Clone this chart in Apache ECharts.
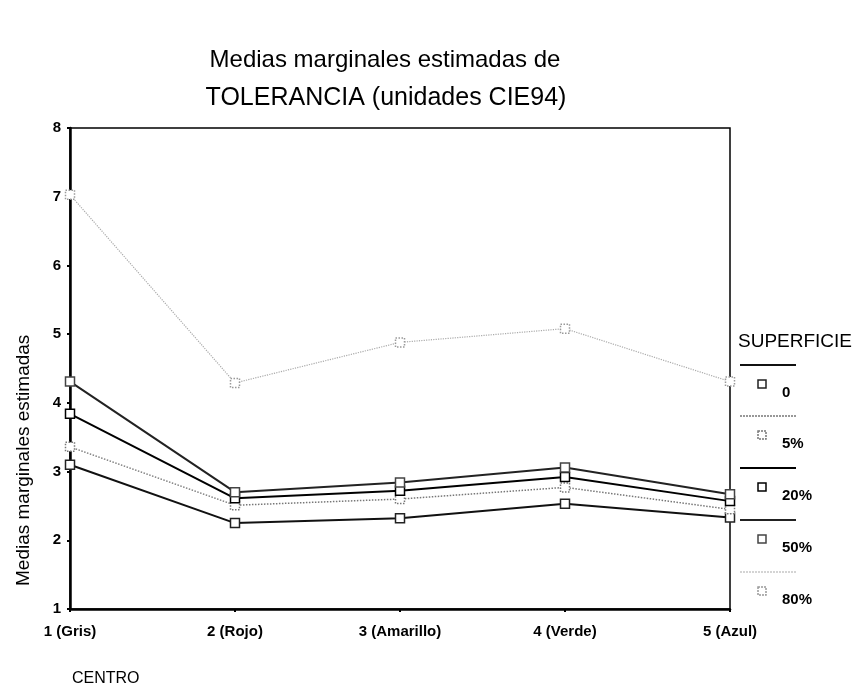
<!DOCTYPE html>
<html><head><meta charset="utf-8">
<script src="https://cdn.jsdelivr.net/npm/echarts@6/dist/echarts.min.js"></script>
<style>html,body{margin:0;padding:0;background:#fff}#c{width:866px;height:693px}</style>
</head><body><div id="c"></div>
<script>
const categories = ['1 (Gris)', '2 (Rojo)', '3 (Amarillo)', '4 (Verde)', '5 (Azul)'];
const seriesNames = ['0', '5%', '20%', '50%', '80%'];
const s0   = [3.10, 2.25, 2.32, 2.53, 2.33];
const s5   = [3.36, 2.51, 2.60, 2.77, 2.45];
const s20  = [3.84, 2.61, 2.72, 2.92, 2.57];
const s50  = [4.31, 2.70, 2.84, 3.06, 2.67];
const s80  = [7.03, 4.29, 4.88, 5.08, 4.31];
const yTicks = [1, 2, 3, 4, 5, 6, 7, 8];
const titleLines = ['Medias marginales estimadas de', 'TOLERANCIA (unidades CIE94)'];
const yName = 'Medias marginales estimadas';
const xName = 'CENTRO';
const legendTitle = 'SUPERFICIE';

const values = [s0, s5, s20, s50, s80];
const styles = [
  {color:'#111', width:2, type:'solid', mk:'#222'},
  {color:'#777', width:1.5, type:'dotted', mk:'#777'},
  {color:'#000', width:2, type:'solid', mk:'#000'},
  {color:'#222', width:2, type:'solid', mk:'#444'},
  {color:'#aaa', width:1.2, type:'dotted', mk:'#999'}
];
const font = 'Liberation Sans, Arial, sans-serif';
const chart = echarts.init(document.getElementById('c'));

const graphic = [
  {type:'text', x:385, y:60, style:{text:titleLines[0], font:'24px '+font, fill:'#000', textAlign:'center', textVerticalAlign:'middle'}},
  {type:'text', x:386, y:98, style:{text:titleLines[1], font:'25px '+font, fill:'#000', textAlign:'center', textVerticalAlign:'middle'}},
  {type:'text', x:14, y:586, rotation:Math.PI/2, style:{text:yName, font:'19px '+font, fill:'#000', textAlign:'left', textVerticalAlign:'top'}},
  {type:'text', x:72, y:679, style:{text:xName, font:'16px '+font, fill:'#000', textVerticalAlign:'middle'}},
  {type:'text', x:738, y:342, style:{text:legendTitle, font:'19px '+font, fill:'#000', textVerticalAlign:'middle'}}
];
const legY = [365, 416, 468, 520, 572];
seriesNames.forEach((n, i) => {
  const st = styles[i];
  graphic.push({type:'line', shape:{x1:740, y1:legY[i], x2:796, y2:legY[i]}, style:{stroke:st.color, lineWidth:st.width, lineDash:st.type==='dotted'?[2,1]:null}});
  graphic.push({type:'rect', shape:{x:758, y:legY[i]+15, width:8, height:8}, style:{fill:'#fff', stroke:st.mk, lineWidth:1.5, lineDash:st.type==='dotted'?[2,1]:null}});
  graphic.push({type:'text', x:782, y:legY[i]+28, style:{text:n, font:'bold 15px '+font, fill:'#000', textVerticalAlign:'middle'}});
});

chart.setOption({
  animation:false,
  backgroundColor:'#fff',
  grid:{left:70, right:136, top:128, bottom:84, show:true, borderColor:'#000', borderWidth:1.5},
  xAxis:{type:'category', data:categories, boundaryGap:false,
    axisLine:{lineStyle:{color:'#000', width:2.5}},
    axisTick:{show:true, length:3, inside:false, lineStyle:{color:'#000', width:2}},
    axisLabel:{color:'#000', fontWeight:'bold', fontSize:15, fontFamily:font, margin:15, interval:0},
    splitLine:{show:false}},
  yAxis:{type:'value', min:1, max:8, interval:1,
    axisLine:{show:true, lineStyle:{color:'#000', width:2.5}},
    axisTick:{show:true, length:3, lineStyle:{color:'#000', width:2}},
    axisLabel:{color:'#000', fontWeight:'bold', fontSize:15, fontFamily:font, margin:9,
      formatter:v => yTicks.includes(v) ? String(v) : ''},
    splitLine:{show:false}},
  graphic: graphic,
  series: values.map((d, i) => ({
    name: seriesNames[i], type:'line', data:d,
    symbol:'rect', symbolSize:9, showAllSymbol:true,
    lineStyle:{color:styles[i].color, width:styles[i].width, type:styles[i].type},
    itemStyle:{color:'#fff', borderColor:styles[i].mk, borderWidth:1.5, borderType:styles[i].type==='dotted'?'dotted':'solid'},
    z: i===4 ? 1 : 2
  }))
});
</script></body></html>
